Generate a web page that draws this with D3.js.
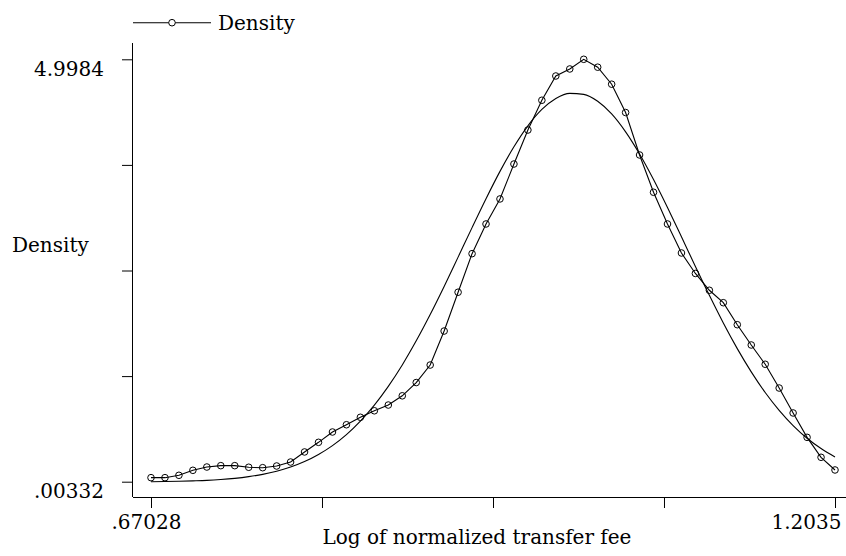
<!DOCTYPE html>
<html>
<head>
<meta charset="utf-8">
<script src="https://cdn.jsdelivr.net/npm/d3@7"></script>
<style>
  body { margin: 0; background: #fff; }
  text { font-family: "DejaVu Serif", "Liberation Serif", serif; fill: #000; }
</style>
</head>
<body>
<div id="vis1"></div>
<script>
// kernel density of log normalized transfer fee, with normal overlay

const FRAME_WIDTH = 846;
const FRAME_HEIGHT = 556;

// evaluation points (50, Stata default)
const xPoints = [0.67028, 0.68116, 0.69204, 0.70293, 0.71381, 0.72469, 0.73557, 0.74645, 0.75734, 0.76822,
                 0.77910, 0.78998, 0.80086, 0.81175, 0.82263, 0.83351, 0.84439, 0.85527, 0.86616, 0.87704,
                 0.88792, 0.89880, 0.90968, 0.92057, 0.93145, 0.94233, 0.95321, 0.96409, 0.97498, 0.98586,
                 0.99674, 1.00762, 1.01850, 1.02939, 1.04027, 1.05115, 1.06203, 1.07291, 1.08380, 1.09468,
                 1.10556, 1.11644, 1.12732, 1.13821, 1.14909, 1.15997, 1.17085, 1.18173, 1.19262, 1.20350];

const density = [0.051, 0.051, 0.079, 0.138, 0.177, 0.193, 0.193, 0.174, 0.169, 0.189,
                 0.236, 0.355, 0.469, 0.591, 0.677, 0.765, 0.842, 0.910, 1.019, 1.176,
                 1.383, 1.785, 2.244, 2.700, 3.051, 3.347, 3.760, 4.162, 4.514, 4.801,
                 4.884, 4.9984, 4.905, 4.704, 4.369, 3.867, 3.426, 3.051, 2.708, 2.466,
                 2.267, 2.120, 1.860, 1.620, 1.392, 1.111, 0.816, 0.528, 0.292, 0.142];

const normalDens = [0.0033, 0.005, 0.008, 0.013, 0.019, 0.029, 0.043, 0.063, 0.090, 0.127,
                    0.176, 0.241, 0.325, 0.430, 0.560, 0.720, 0.909, 1.131, 1.384, 1.669,
                    1.980, 2.312, 2.659, 3.008, 3.350, 3.673, 3.964, 4.212, 4.405, 4.535,
                    4.596, 4.584, 4.502, 4.352, 4.140, 3.878, 3.576, 3.245, 2.899, 2.549,
                    2.207, 1.880, 1.577, 1.302, 1.058, 0.847, 0.667, 0.517, 0.395, 0.296];

const xTicks = [0.67028, 0.80358, 0.93689, 1.07019, 1.2035];
const yTicks = [0.00332, 1.25209, 2.50086, 3.74963, 4.9984];
const xTickLabels = {0.67028: ".67028", 1.2035: "1.2035"};
const yTickLabels = {0.00332: ".00332", 4.9984: "4.9984"};

const AXIS_X = 133;   // y axis position
const AXIS_Y = 497;   // x axis position

const X_SCALE = d3.scaleLinear()
                  .domain([0.67028, 1.2035])
                  .range([151, 835]);

const Y_SCALE = d3.scaleLinear()
                  .domain([0.00332, 4.9984])
                  .range([481.7, 59.3]);

const FRAME1 = d3.select("#vis1")
                  .append("svg")
                    .attr("width", FRAME_WIDTH)
                    .attr("height", FRAME_HEIGHT);

// axes
const xAxis = FRAME1.append("g")
      .attr("transform", "translate(0," + AXIS_Y + ")")
      .call(d3.axisBottom(X_SCALE)
              .tickValues(xTicks)
              .tickSize(11)
              .tickPadding(7)
              .tickFormat((d) => xTickLabels[d] || ""));
xAxis.select(".domain")
      .attr("d", "M" + AXIS_X + ",0.5H" + FRAME_WIDTH)
      .attr("stroke", "#000");
xAxis.selectAll("text")
      .attr("font-size", "20px")
      .attr("font-family", "DejaVu Serif");
xAxis.selectAll(".tick")
      .filter((d) => d === 0.67028)
      .select("text").attr("dx", -5);
xAxis.selectAll(".tick")
      .filter((d) => d === 1.2035)
      .select("text").attr("text-anchor", "end").attr("dx", 6);

const yAxis = FRAME1.append("g")
      .attr("transform", "translate(" + AXIS_X + ",0)")
      .call(d3.axisLeft(Y_SCALE)
              .tickValues(yTicks)
              .tickSize(11)
              .tickPadding(18)
              .tickFormat((d) => yTickLabels[d] || ""));
yAxis.select(".domain")
      .attr("d", "M-0.5,43V" + AXIS_Y)
      .attr("stroke", "#000");
yAxis.selectAll("text")
      .attr("font-size", "20px")
      .attr("font-family", "DejaVu Serif")
      .attr("dy", "0.8em");

// axis titles
FRAME1.append("text")
      .attr("x", 12)
      .attr("y", 252)
      .attr("font-size", "20px")
      .text("Density");

FRAME1.append("text")
      .attr("x", 477)
      .attr("y", 544)
      .attr("text-anchor", "middle")
      .attr("font-size", "20px")
      .text("Log of normalized transfer fee");

// normal density overlay
const normalLine = d3.line()
      .x((d, i) => X_SCALE(xPoints[i]))
      .y((d) => Y_SCALE(d))
      .curve(d3.curveMonotoneX);

FRAME1.append("path")
      .datum(normalDens)
      .attr("d", normalLine)
      .attr("fill", "none")
      .attr("stroke", "#000")
      .attr("stroke-width", 1.1);

// kernel density with markers
const densLine = d3.line()
      .x((d, i) => X_SCALE(xPoints[i]))
      .y((d) => Y_SCALE(d));

FRAME1.append("path")
      .datum(density)
      .attr("d", densLine)
      .attr("fill", "none")
      .attr("stroke", "#000")
      .attr("stroke-width", 1.1);

FRAME1.selectAll(".point")
      .data(density)
      .enter()
      .append("circle")
        .attr("cx", (d, i) => X_SCALE(xPoints[i]))
        .attr("cy", (d) => Y_SCALE(d))
        .attr("r", 3.3)
        .attr("fill", "none")
        .attr("stroke", "#000")
        .attr("stroke-width", 1);

// legend
const legend = FRAME1.append("g");
legend.append("line")
      .attr("x1", 133).attr("x2", 211)
      .attr("y1", 22.7).attr("y2", 22.7)
      .attr("stroke", "#000")
      .attr("stroke-width", 1.1);
legend.append("circle")
      .attr("cx", 172).attr("cy", 22.7)
      .attr("r", 3.3)
      .attr("fill", "#fff")
      .attr("stroke", "#000");
legend.append("text")
      .attr("x", 218)
      .attr("y", 30)
      .attr("font-size", "20px")
      .text("Density");
</script>
</body>
</html>
